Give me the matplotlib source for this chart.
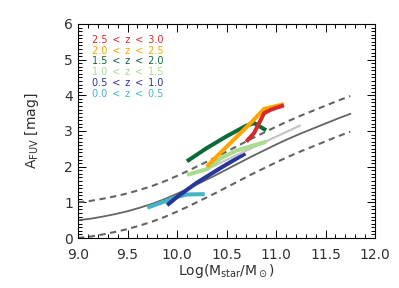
import matplotlib
matplotlib.use("Agg")
import matplotlib.pyplot as plt
from matplotlib.ticker import MultipleLocator

# relation locale (ligne pleine) et +/- dispersion (tirets)
mass_ref = [9.0, 9.125, 9.25, 9.375, 9.5, 9.625, 9.75, 9.875, 10.0, 10.125, 10.25, 10.375,
            10.5, 10.625, 10.75, 10.875, 11.0, 11.125, 11.25, 11.375, 11.5, 11.625, 11.75]
afuv_ref = [0.50, 0.54, 0.60, 0.67, 0.75, 0.85, 0.96, 1.09, 1.24, 1.40, 1.57, 1.74,
            1.92, 2.10, 2.28, 2.45, 2.62, 2.78, 2.93, 3.07, 3.21, 3.35, 3.48]
afuv_up = [1.00, 1.04, 1.10, 1.17, 1.25, 1.35, 1.46, 1.59, 1.74, 1.90, 2.07, 2.24,
           2.42, 2.60, 2.78, 2.95, 3.12, 3.28, 3.43, 3.57, 3.71, 3.85, 3.98]
afuv_low = [0.00, 0.04, 0.10, 0.17, 0.25, 0.35, 0.46, 0.59, 0.74, 0.90, 1.07, 1.24,
            1.42, 1.60, 1.78, 1.95, 2.12, 2.28, 2.43, 2.57, 2.71, 2.85, 2.98]

# ligne grise claire
mass_gris = [10.25, 10.6, 11.24]
afuv_gris = [1.86, 2.32, 3.15]

# bins en redshift
labels = ["2.5\u2002<\u2002z\u2002<\u20023.0", "2.0\u2002<\u2002z\u2002<\u20022.5",
          "1.5\u2002<\u2002z\u2002<\u20022.0", "1.0\u2002<\u2002z\u2002<\u20021.5",
          "0.5\u2002<\u2002z\u2002<\u20021.0", "0.0\u2002<\u2002z\u2002<\u20020.5"]
couleurs = ["#d62a2a", "#ffa500", "#0b6a38", "#a9dc8e", "#28359a", "#45b4c9"]

mass_z25 = [10.70, 10.78, 10.88, 10.95, 11.08]
afuv_z25 = [2.70, 2.95, 3.50, 3.60, 3.72]
mass_z20 = [10.30, 10.45, 10.60, 10.75, 10.88, 11.08]
afuv_z20 = [2.00, 2.42, 2.83, 3.24, 3.62, 3.75]
mass_z15 = [10.10, 10.30, 10.50, 10.70, 10.78, 10.90]
afuv_z15 = [2.15, 2.52, 2.85, 3.15, 3.22, 3.02]
mass_z10 = [10.10, 10.30, 10.45, 10.60, 10.90]
afuv_z10 = [1.77, 1.93, 2.25, 2.45, 2.70]
mass_z05 = [9.90, 10.00, 10.20, 10.45, 10.69]
afuv_z05 = [0.92, 1.15, 1.55, 1.98, 2.37]
mass_z00 = [9.70, 9.85, 10.00, 10.10, 10.28]
afuv_z00 = [0.85, 1.00, 1.15, 1.22, 1.23]

fig = plt.figure(figsize=(3.99, 2.88), dpi=100)
ax = fig.add_axes([0.1955, 0.1736, 0.7444, 0.7431])

gris = "#646464"
texte = "#303030"
ax.plot(mass_ref, afuv_ref, color=gris, lw=1.3)
ax.plot(mass_ref, afuv_up, color=gris, lw=1.5, dashes=(3, 2.2))
ax.plot(mass_ref, afuv_low, color=gris, lw=1.5, dashes=(3, 2.2))

# ordre de trace : du bas vers le haut
series = [(mass_z00, afuv_z00, 5), (mass_z05, afuv_z05, 4), (mass_z10, afuv_z10, 3),
          (mass_z15, afuv_z15, 2), (mass_z20, afuv_z20, 1), (mass_z25, afuv_z25, 0)]
for m, a, i in series:
    if i == 3:
        ax.plot(mass_gris, afuv_gris, color="#c4c4c4", lw=1.6)
    ax.plot(m, a, color=couleurs[i], lw=2.9, solid_capstyle="butt", solid_joinstyle="miter")

for i in range(len(labels)):
    ax.text(9.14, 5.56 - i * 0.305, labels[i], color=couleurs[i], fontsize=7,
            ha="left", va="center")

ax.set_xlim(9.0, 12.0)
ax.set_ylim(0, 6)
ax.xaxis.set_major_locator(MultipleLocator(0.5))
ax.xaxis.set_minor_locator(MultipleLocator(0.1))
ax.yaxis.set_major_locator(MultipleLocator(1))
ax.yaxis.set_minor_locator(MultipleLocator(0.1))
ax.tick_params(which="both", direction="in", top=True, right=True, width=0.7,
               labelsize=10, labelcolor=texte)
ax.tick_params(which="major", length=6)
ax.tick_params(which="minor", length=3)
ax.tick_params(axis="x", which="major", pad=7)
ax.xaxis.set_major_formatter(matplotlib.ticker.FormatStrFormatter("%.1f"))
for s in ax.spines.values():
    s.set_linewidth(0.8)

ax.set_xlabel(r"Log(M$_{\rm star}$/M$_\odot$)", fontsize=10, labelpad=0, color=texte)
ax.set_ylabel(r"A$_{\rm FUV}$ [mag]", fontsize=10, labelpad=17, color=texte)

fig.savefig("out.png", dpi=100)
